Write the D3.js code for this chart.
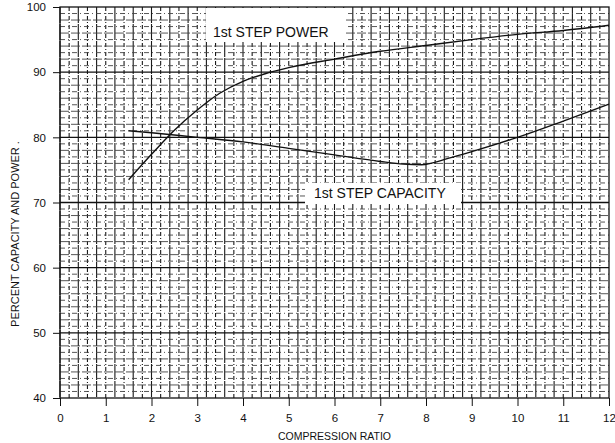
<!DOCTYPE html>
<html>
<head>
<meta charset="utf-8">
<script src="https://cdn.jsdelivr.net/npm/d3@7"></script>
<style>
body { margin: 0; background: #fff; }
text { font-family: "Liberation Sans", Arial, sans-serif; fill: #111; }
</style>
</head>
<body>
<script>
var width = 615,
    height = 443,
    margin = {top: 7, right: 6, bottom: 45, left: 60};

var powerX = [1.5, 2, 2.5, 3, 3.5, 4, 4.5, 5, 6, 7, 8, 9, 10, 11, 12];
var powerY = [73.5, 77.4, 81.1, 84.2, 86.8, 88.6, 89.8, 90.7, 92, 93.2, 94.1, 95, 95.8, 96.4, 97.2];
var capX = [1.5, 2, 3, 4, 5, 6, 7, 7.5, 7.9, 8.5, 9, 10, 11, 12];
var capY = [81, 80.7, 80, 79.3, 78.3, 77.3, 76.3, 75.9, 75.8, 76.8, 77.8, 80, 82.5, 85.1];
var xTicks = [0, 1, 2, 3, 4, 5, 6, 7, 8, 9, 10, 11, 12];
var yTicks = [40, 50, 60, 70, 80, 90, 100];

var x = d3.scaleLinear().domain([0, 12]).range([margin.left, width - margin.right]);
var y = d3.scaleLinear().domain([40, 100]).range([height - margin.bottom, margin.top]);

var svg = d3.select("body").append("svg")
    .attr("width", width)
    .attr("height", height);

var grid = svg.append("g").attr("class", "grid");

// vertical graph paper lines every 0.2
grid.selectAll("line.v")
    .data(d3.range(0, 60).map(function(i) { return i * 0.2; }))
  .enter().append("line")
    .attr("x1", function(d) { return x(d); })
    .attr("x2", function(d) { return x(d); })
    .attr("y1", y(100))
    .attr("y2", y(40))
    .attr("stroke", "#1a1a1a")
    .attr("stroke-width", 1.1)
    .attr("stroke-dasharray", function(d, i) { return i % 2 ? "4,2,1,2" : "16,1"; });

// horizontal lines every 1
grid.selectAll("line.h")
    .data(d3.range(41, 100))
  .enter().append("line")
    .attr("x1", x(0))
    .attr("x2", x(12))
    .attr("y1", function(d) { return y(d); })
    .attr("y2", function(d) { return y(d); })
    .attr("stroke", function(d) { return d % 10 === 0 ? "#111" : "#444"; })
    .attr("stroke-width", function(d) { return d % 10 === 0 ? 1.4 : 0.9; })
    .attr("stroke-dasharray", function(d) { return d % 10 === 0 ? null : (d % 2 ? "5,3,1,3" : "9,2"); });

// label boxes clear the grid
svg.append("rect")
    .attr("x", 206).attr("y", y(100) + 1)
    .attr("width", 140).attr("height", 34)
    .attr("fill", "#fff");
svg.append("rect")
    .attr("x", 305).attr("y", 183)
    .attr("width", 156).attr("height", 21)
    .attr("fill", "#fff");

// frame
svg.append("rect")
    .attr("x", x(0)).attr("y", y(100))
    .attr("width", x(12) - x(0)).attr("height", y(40) - y(100))
    .attr("fill", "none")
    .attr("stroke", "#111")
    .attr("stroke-width", 1.3);

var line = d3.line()
    .x(function(d) { return x(d[0]); })
    .y(function(d) { return y(d[1]); })
    .curve(d3.curveMonotoneX);

svg.append("path")
    .datum(d3.zip(powerX, powerY))
    .attr("d", line)
    .attr("fill", "none")
    .attr("stroke", "#111")
    .attr("stroke-width", 1.4);

svg.append("path")
    .datum(d3.zip(capX, capY))
    .attr("d", line)
    .attr("fill", "none")
    .attr("stroke", "#111")
    .attr("stroke-width", 1.4);

// axes
var xAxis = svg.append("g")
    .attr("transform", "translate(0," + y(40) + ")")
    .call(d3.axisBottom(x).tickValues(xTicks).tickSize(8).tickPadding(8));
var yAxis = svg.append("g")
    .attr("transform", "translate(" + x(0) + ",0)")
    .call(d3.axisLeft(y).tickValues(yTicks).tickSize(7).tickPadding(7));

[xAxis, yAxis].forEach(function(a) {
  a.select(".domain").remove();
  a.selectAll("line").attr("stroke", "#111");
  a.selectAll("text")
    .style("font-family", "'Liberation Sans', Arial, sans-serif")
    .style("font-size", "11.5px")
    .attr("fill", "#111");
});

svg.append("text")
    .attr("x", (x(0) + x(12)) / 2)
    .attr("y", 440)
    .attr("text-anchor", "middle")
    .style("font-size", "10.5px")
    .text("COMPRESSION RATIO");

svg.append("text")
    .attr("transform", "translate(19,234)rotate(-90)")
    .attr("text-anchor", "middle")
    .style("font-size", "11px")
    .text("PERCENT CAPACITY AND POWER .");

svg.append("text")
    .attr("x", 213)
    .attr("y", 37)
    .style("font-size", "14px")
    .text("1st STEP POWER");

svg.append("text")
    .attr("x", 314)
    .attr("y", 198)
    .style("font-size", "14px")
    .text("1st STEP CAPACITY");
</script>
</body>
</html>
